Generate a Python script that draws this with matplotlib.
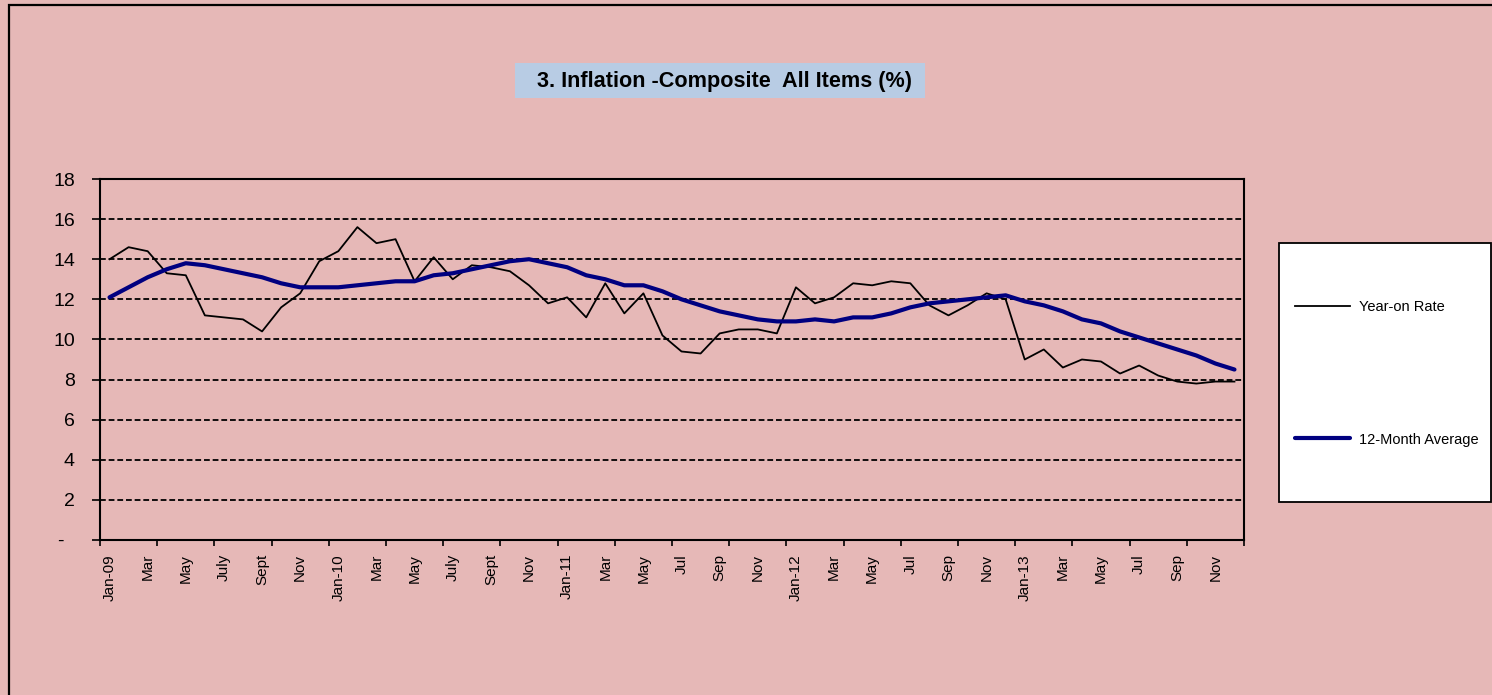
import matplotlib
matplotlib.use("Agg")
import matplotlib.pyplot as plt
from matplotlib.patches import Rectangle
import numpy as np

plt.rcParams['font.family'] = ['Liberation Sans', 'DejaVu Sans']

# ---- data ----
tick_labels = ["Jan-09", "Mar", "May", "July", "Sept", "Nov",
               "Jan-10", "Mar", "May", "July", "Sept", "Nov",
               "Jan-11", "Mar", "May", "Jul", "Sep", "Nov",
               "Jan-12", "Mar", "May", "Jul", "Sep", "Nov",
               "Jan-13", "Mar", "May", "Jul", "Sep", "Nov"]

year_on_rate = [14.0, 14.6, 14.4, 13.3, 13.2, 11.2, 11.1, 11.0, 10.4, 11.6, 12.3, 13.9,
                14.4, 15.6, 14.8, 15.0, 12.9, 14.1, 13.0, 13.7, 13.6, 13.4, 12.7, 11.8,
                12.1, 11.1, 12.8, 11.3, 12.3, 10.2, 9.4, 9.3, 10.3, 10.5, 10.5, 10.3,
                12.6, 11.8, 12.1, 12.8, 12.7, 12.9, 12.8, 11.7, 11.2, 11.7, 12.3, 12.0,
                9.0, 9.5, 8.6, 9.0, 8.9, 8.3, 8.7, 8.2, 7.9, 7.8, 7.9, 7.9]

twelve_month_avg = [12.1, 12.6, 13.1, 13.5, 13.8, 13.7, 13.5, 13.3, 13.1, 12.8, 12.6, 12.6,
                    12.6, 12.7, 12.8, 12.9, 12.9, 13.2, 13.3, 13.5, 13.7, 13.9, 14.0, 13.8,
                    13.6, 13.2, 13.0, 12.7, 12.7, 12.4, 12.0, 11.7, 11.4, 11.2, 11.0, 10.9,
                    10.9, 11.0, 10.9, 11.1, 11.1, 11.3, 11.6, 11.8, 11.9, 12.0, 12.1, 12.2,
                    11.9, 11.7, 11.4, 11.0, 10.8, 10.4, 10.1, 9.8, 9.5, 9.2, 8.8, 8.5]

series_names = ["Year-on Rate", "12-Month Average"]
title_text = "3. Inflation -Composite  All Items (%)"

# ---- figure ----
W, H = 1492, 695
bg = "#E6B8B7"
fig = plt.figure(figsize=(W / 100, H / 100), dpi=100, facecolor=bg)

# outer chart border (left and top visible)
fig.patches.append(Rectangle((9 / W, -0.1), 1.2, 1 - 5 / H + 0.1, transform=fig.transFigure,
                             facecolor="none", edgecolor="black", lw=1.6, clip_on=False))

ax = fig.add_axes([100 / W, 1 - 540 / H, (1244 - 100) / W, (540 - 179) / H])
ax.set_facecolor(bg)

n = len(year_on_rate)
x = np.arange(n) + 0.5
l1, = ax.plot(x, year_on_rate, color="black", lw=1.3, label=series_names[0], zorder=3)
l2, = ax.plot(x, twelve_month_avg, color="#000080", lw=3.0, label=series_names[1], zorder=4,
              solid_capstyle="round")

ax.set_xlim(0, n)
ax.set_ylim(0, 18)
yt = np.arange(0, 19, 2)
ax.set_yticks(yt)
ax.set_yticklabels(["-  "] + [str(v) for v in yt[1:]], fontsize=14)
ax.tick_params(axis="y", direction="out", length=6, width=1.2, pad=12)

ax.set_xticks(np.arange(0, n + 1, 3))
ax.set_xticklabels([])
ax.tick_params(axis="x", which="major", direction="out", length=4, width=1.2)
ax.set_xticks(np.arange(0, n, 2) + 0.5, minor=True)
ax.set_xticklabels(tick_labels, minor=True, rotation=90, fontsize=11, va="top", ha="center")
ax.tick_params(axis="x", which="minor", length=0, pad=10)

for yv in yt[1:-1]:
    ax.axhline(yv, color="black", lw=1.3, linestyle=(0, (3.2, 1.6)), zorder=1)

for s in ax.spines.values():
    s.set_color("black")
    s.set_linewidth(1.5)

# title box
fig.patches.append(Rectangle((515 / W, 1 - 98 / H), (925 - 515) / W, (98 - 63) / H,
                             transform=fig.transFigure, facecolor="#B8CCE4", edgecolor="none"))
fig.text(537 / W, 1 - 81 / H, title_text, fontsize=15.6, fontweight="bold",
         ha="left", va="center")

# legend box
fig.patches.append(Rectangle((1279 / W, 1 - 502 / H), (1491 - 1279) / W, (502 - 243) / H,
                             transform=fig.transFigure, facecolor="white", edgecolor="black",
                             lw=1.3))
leg = fig.legend(handles=[l1, l2], loc="center left",
                 bbox_to_anchor=(1295 / W, 1 - 373.5 / H), frameon=False,
                 fontsize=10.5, handlelength=3.8, handletextpad=0.6,
                 labelspacing=8.1, borderpad=0, borderaxespad=0)

fig.savefig("out.png", dpi=100, facecolor=bg)
